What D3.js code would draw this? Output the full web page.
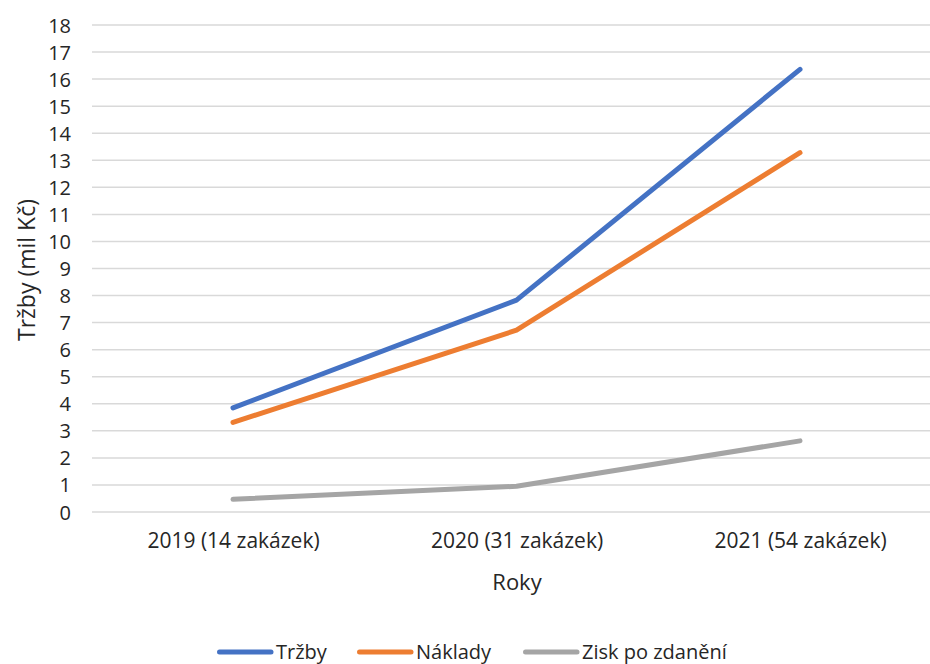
<!DOCTYPE html>
<html>
<head>
<meta charset="utf-8">
<script src="https://cdn.jsdelivr.net/npm/d3@7"></script>
<style>
  body { margin: 0; background: #fff; }
  text { font-family: "Open Sans", "Noto Sans", sans-serif; fill: #262626; }
</style>
</head>
<body>
<svg class="chart"></svg>
<script>
let categories = ['2019 (14 zakázek)', '2020 (31 zakázek)', '2021 (54 zakázek)'];
let trzby = [3.85, 7.83, 16.36];
let naklady = [3.31, 6.72, 13.28];
let zisk = [0.47, 0.95, 2.63];
let seriesNames = ['Tržby', 'Náklady', 'Zisk po zdanění'];
let seriesColors = ['#4472C4', '#ED7D31', '#A5A5A5'];
let yTicks = d3.range(0, 19);

let W = 930, H = 664;

let svg = d3.select('.chart')
    .attr('width', W)
    .attr('height', H);

let x = d3.scalePoint()
    .domain(categories)
    .range([233, 800]);

let y = d3.scaleLinear()
    .domain([0, 18])
    .range([512, 25]);

// gridlines
svg.append('g')
  .selectAll('line')
  .data(yTicks)
  .enter().append('line')
    .attr('x1', 92)
    .attr('x2', W)
    .attr('y1', d => y(d))
    .attr('y2', d => y(d))
    .attr('stroke', '#d9d9d9')
    .attr('stroke-width', 1.5);

let yAxis = d3.axisLeft(y).tickValues(yTicks).tickSize(0).tickPadding(0);
let gy = svg.append('g')
    .attr('transform', 'translate(71,0)')
    .call(yAxis);
gy.select('.domain').remove();
gy.selectAll('text').style('font-size', '20px').attr('dy', '0.35em');

let xAxis = d3.axisBottom(x).tickSize(0).tickPadding(0);
let gx = svg.append('g')
    .attr('transform', 'translate(0,533)')
    .call(xAxis);
gx.select('.domain').remove();
gx.selectAll('text').style('font-size', '21px').attr('dy', '0.71em');

let data = [trzby, naklady, zisk];
let line = d3.line()
    .x((d, i) => x(categories[i]))
    .y(d => y(d));

svg.append('g')
  .selectAll('path')
  .data(data)
  .enter().append('path')
    .attr('d', line)
    .attr('fill', 'none')
    .attr('stroke', (d, i) => seriesColors[i])
    .attr('stroke-width', 5)
    .attr('stroke-linecap', 'round')
    .attr('stroke-linejoin', 'round');

// axis titles
svg.append('text')
    .attr('x', 517)
    .attr('y', 590)
    .attr('text-anchor', 'middle')
    .style('font-size', '22px')
    .text('Roky');

svg.append('text')
    .attr('transform', 'translate(35,270) rotate(-90)')
    .attr('text-anchor', 'middle')
    .style('font-size', '23px')
    .text('Tržby (mil Kč)');

// legend
let legendX = [217, 357, 523];
let legend = svg.append('g')
  .selectAll('g')
  .data(seriesNames)
  .enter().append('g')
    .attr('transform', (d, i) => 'translate(' + legendX[i] + ',652)');

legend.append('line')
    .attr('x1', 2.5)
    .attr('x2', 54)
    .attr('stroke', (d, i) => seriesColors[i])
    .attr('stroke-width', 5)
    .attr('stroke-linecap', 'round');

legend.append('text')
    .attr('x', 59)
    .attr('dy', '0.35em')
    .style('font-size', '20px')
    .text(d => d);
</script>
</body>
</html>
